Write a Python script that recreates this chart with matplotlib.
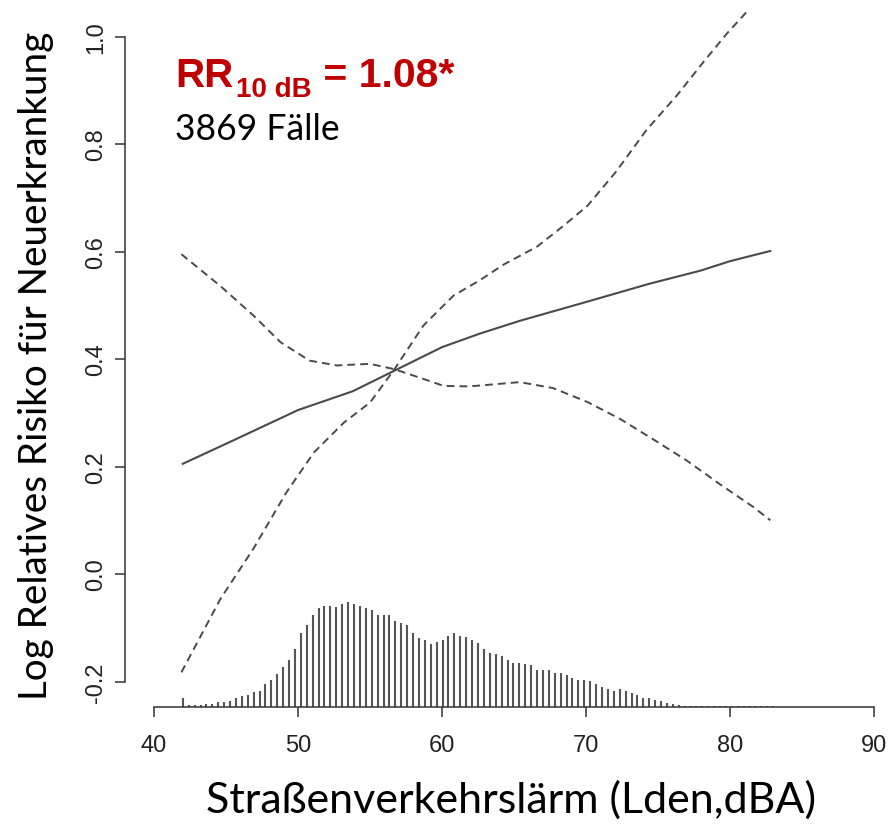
import numpy as np
import matplotlib.pyplot as plt

plt.rcParams['font.family'] = ['Liberation Sans', 'DejaVu Sans']

# Schätzung (durchgezogen) und Konfidenzgrenzen (gestrichelt)
fit_x = [42.0, 45.7, 50.0, 53.8, 56.9, 60.0, 62.6, 65.4, 70.0, 74.4, 77.9, 80.0, 82.8]
fit_y = [0.205, 0.251, 0.305, 0.340, 0.381, 0.422, 0.447, 0.471, 0.506, 0.540, 0.564, 0.582, 0.601]

upper_x = [41.9, 44.6, 46.9, 49.2, 51.1, 53.2, 55.0, 56.7, 58.7, 60.8, 62.6, 64.3,
           66.6, 68.4, 70.1, 72.1, 74.2, 76.3, 78.2, 79.8, 81.2, 82.8]
upper_y = [-0.183, -0.047, 0.047, 0.152, 0.226, 0.282, 0.319, 0.381, 0.462, 0.518, 0.546, 0.576,
           0.609, 0.647, 0.685, 0.749, 0.826, 0.890, 0.954, 1.006, 1.047, 1.120]

lower_x = [41.9, 44.6, 46.9, 48.8, 50.8, 52.7, 55.0, 56.7, 58.7, 60.1, 61.9, 65.4,
           67.7, 70.1, 72.4, 74.7, 77.0, 79.3, 81.6, 82.8]
lower_y = [0.595, 0.536, 0.481, 0.431, 0.397, 0.388, 0.391, 0.381, 0.363, 0.350, 0.349, 0.357,
           0.346, 0.320, 0.288, 0.250, 0.211, 0.167, 0.125, 0.100]

# Verteilung der Exposition (relative Häufigkeit, beliebige Einheit), Klassenbreite 0.41 dB ab 42 dB
hist_h = [9.7, 2.3, 2.3, 2.3, 3.7, 3.7, 5.3, 5.3, 6.7, 9.3,
          11.3, 12.0, 15.3, 16.7, 23.3, 27.3, 33.3, 40.7, 47.3, 58.3,
          74.3, 82.7, 92.3, 99.3, 101.0, 101.7, 100.7, 103.3, 105.0, 103.3,
          101.3, 99.3, 97.7, 92.7, 92.7, 92.7, 86.7, 84.0, 82.7, 74.3,
          69.0, 67.3, 63.0, 65.7, 67.3, 71.0, 74.0, 71.0, 70.0, 67.3,
          64.0, 58.3, 54.7, 53.0, 51.7, 47.3, 44.7, 44.7, 43.3, 42.3,
          37.7, 37.7, 37.7, 34.7, 34.7, 32.0, 29.0, 27.7, 27.7, 26.0,
          23.7, 20.7, 18.3, 16.7, 18.0, 16.3, 14.0, 12.7, 9.7, 9.7,
          7.3, 6.7, 4.3, 3.0, 2.3, 1.7, 1.7, 1.7, 1.7, 1.7,
          1.7, 1.7, 1.7, 1.7, 1.7, 1.7, 1.7, 1.7, 1.7, 1.7, 1.7]
hist_x = 42.0 + 0.41 * np.arange(len(hist_h))

x_ticks = [40, 50, 60, 70, 80, 90]
y_ticks = [-0.2, 0.0, 0.2, 0.4, 0.6, 0.8, 1.0]

W, H = 890, 829
fig = plt.figure(figsize=(W / 100, H / 100), dpi=100)
ax = fig.add_axes([125.2 / W, (H - 708.3) / H, 777.6 / W, 696.6 / H])

ymin, ymax = -0.248, 1.048
ax.set_xlim(38, 92)
ax.set_ylim(ymin, ymax)

line_col = '#4a4a4a'
ax.plot(fit_x, fit_y, color=line_col, lw=1.5)
ax.plot(upper_x, upper_y, color=line_col, lw=1.4, dashes=(4, 2.6))
ax.plot(lower_x, lower_y, color=line_col, lw=1.4, dashes=(4, 2.6))

# Histogramm am unteren Rand
hist_scale = 1 / 537.5
ax.vlines(hist_x, ymin, ymin + np.array(hist_h) * hist_scale, color='#555555', lw=1.5)

for s in ['top', 'right']:
    ax.spines[s].set_visible(False)
ax.spines['left'].set_bounds(-0.2, 1.0)
ax.spines['bottom'].set_bounds(40, 90)
for s in ['left', 'bottom']:
    ax.spines[s].set_color('#333333')
    ax.spines[s].set_linewidth(1.1)

ax.set_xticks(x_ticks)
ax.set_yticks(y_ticks)
ax.set_yticklabels(['%.1f' % v for v in y_ticks])
ax.tick_params(axis='both', direction='out', length=7, width=1.1, color='#333333',
               labelsize=17, labelcolor='#222222')
ax.tick_params(axis='x', pad=12)
ax.tick_params(axis='y', pad=6)
for lab in ax.get_yticklabels():
    lab.set_rotation(90)
    lab.set_va('center')

# Achsentitel
fig.text(511 / W, 1 - 800 / H, 'Straßenverkehrslärm (Lden,dBA)', family=['Lato', 'DejaVu Sans'],
         fontsize=31, ha='center', va='center')
fig.text(36 / W, 1 - 366 / H, 'Log Relatives Risiko für Neuerkrankung', family=['Lato', 'DejaVu Sans'],
         fontsize=27.8, rotation=90, ha='center', va='center')

# Annotation
red = '#c00000'
fig.text(175 / W, 1 - 87 / H, 'RR', color=red, fontsize=29, weight='bold', va='baseline')
fig.text(236 / W, 1 - 97 / H, '10 dB', color=red, fontsize=20, weight='bold', va='baseline')
fig.text(312 / W, 1 - 87 / H, ' = 1.08*', color=red, fontsize=29.5, weight='bold', va='baseline')
fig.text(175 / W, 1 - 140 / H, '3869 Fälle', family=['Lato', 'DejaVu Sans'], fontsize=25.6,
         va='baseline', color='black')

fig.savefig('out.png', dpi=100)
